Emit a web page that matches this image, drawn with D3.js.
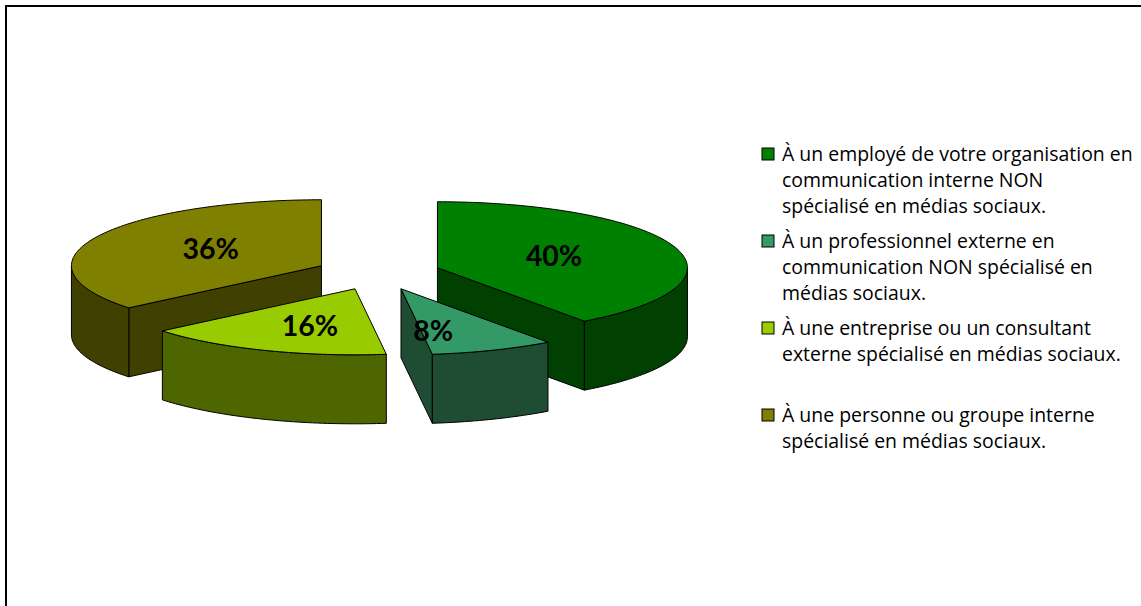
<!DOCTYPE html>
<html>
<head>
<meta charset="utf-8">
<script src="https://cdn.jsdelivr.net/npm/d3@7"></script>
<style>
    body { margin: 0; background: #fff; }
    svg { display: block; }
</style>
</head>
<body>
<div class="chart"></div>
<script>
const categories = [
    'À un employé de votre organisation en communication interne NON spécialisé en médias sociaux.',
    'À un professionnel externe en communication NON spécialisé en médias sociaux.',
    'À une entreprise ou un consultant externe spécialisé en médias sociaux.',
    'À une personne ou groupe interne spécialisé en médias sociaux.'
];
const legendLines = [
    ['À un employé de votre organisation en', 'communication interne NON', 'spécialisé en médias sociaux.'],
    ['À un professionnel externe en', 'communication NON spécialisé en', 'médias sociaux.'],
    ['À une entreprise ou un consultant', 'externe spécialisé en médias sociaux.'],
    ['À une personne ou groupe interne', 'spécialisé en médias sociaux.']
];
const values = [40, 8, 16, 36];
const labels = ['40%', '8%', '16%', '36%'];
const topColors = ['#008000', '#339966', '#99cc00', '#808000'];
const sideColors = ['#004000', '#1f4d33', '#4d6600', '#404000'];

const width = 1141;
const height = 606;

// pie geometry (tilted ellipse + thickness)
const cx = 378;
const cy = 273;
const rx = 250;
const ry = 66;
const depth = 69;
const explode = 0.25;

const svg = d3.select('.chart')
    .append('svg')
    .attr('width', width)
    .attr('height', height);

svg.append('rect')
    .attr('x', 6)
    .attr('y', 6)
    .attr('width', width + 20)
    .attr('height', height + 20)
    .attr('fill', '#fff')
    .attr('stroke', '#000')
    .attr('stroke-width', 2);

const pie = d3.pie().sort(null).value(d => d);
const arcs = pie(values).map((d, i) => {
    const mid = (d.startAngle + d.endAngle) / 2;
    return {
        ...d,
        i,
        mid,
        ox: explode * rx * Math.sin(mid),
        oy: -explode * 68 * Math.cos(mid)
    };
});

const pt = (d, a, r, z, rv = r) => [
    cx + d.ox + rx * r * Math.sin(a),
    cy + d.oy - ry * rv * Math.cos(a) + z
];

const line = d3.line();

function arcPoints(d, a0, a1, z) {
    const n = Math.max(2, Math.ceil(Math.abs(a1 - a0) / 0.02));
    return d3.range(n + 1).map(k => pt(d, a0 + (a1 - a0) * k / n, 1, z));
}

function sideFaces(d) {
    const faces = [];
    // cut face at start angle
    if (Math.sin(d.startAngle) < -1e-6) {
        faces.push([pt(d, 0, 0, 0), pt(d, d.startAngle, 1, 0), pt(d, d.startAngle, 1, depth), pt(d, 0, 0, depth)]);
    }
    // cut face at end angle
    if (Math.sin(d.endAngle) > 1e-6) {
        faces.push([pt(d, 0, 0, 0), pt(d, d.endAngle, 1, 0), pt(d, d.endAngle, 1, depth), pt(d, 0, 0, depth)]);
    }
    // outer curved side, front half only
    const a0 = Math.max(d.startAngle, Math.PI / 2);
    const a1 = Math.min(d.endAngle, Math.PI * 1.5);
    if (a1 > a0) {
        faces.push(arcPoints(d, a0, a1, 0).concat(arcPoints(d, a1, a0, depth)));
    }
    return faces;
}

const order = arcs.slice().sort((a, b) => a.oy - b.oy);

const slices = svg.append('g')
    .attr('class', 'slices')
    .selectAll('g')
    .data(order)
    .enter()
    .append('g');

slices.selectAll('path.side')
    .data(d => sideFaces(d).map(f => ({ f, i: d.i })))
    .enter()
    .append('path')
    .attr('class', 'side')
    .attr('d', d => line(d.f) + 'Z')
    .attr('fill', d => sideColors[d.i])
    .attr('stroke', '#000')
    .attr('stroke-width', 1)
    .attr('stroke-linejoin', 'round');

slices.append('path')
    .attr('class', 'top')
    .attr('d', d => line([pt(d, 0, 0, 0)].concat(arcPoints(d, d.startAngle, d.endAngle, 0))) + 'Z')
    .attr('fill', d => topColors[d.i])
    .attr('stroke', '#000')
    .attr('stroke-width', 1)
    .attr('stroke-linejoin', 'round');

// small slices get their label pushed toward the front edge
const isSmall = d => d.endAngle - d.startAngle < 0.6;
const labelPos = d => isSmall(d) ? pt(d, d.mid, 0.35, 0, 0.68) : pt(d, d.mid, 0.49, 0, 0.6);

svg.append('g')
    .attr('class', 'labels')
    .selectAll('text')
    .data(arcs)
    .enter()
    .append('text')
    .attr('x', d => labelPos(d)[0])
    .attr('y', d => labelPos(d)[1])
    .attr('dy', '0.36em')
    .attr('text-anchor', 'middle')
    .attr('fill', '#000')
    .style('font-family', 'Lato, sans-serif')
    .style('font-weight', 'bold')
    .style('font-size', '28.5px')
    .text((d, i) => labels[i]);

const legend = svg.append('g')
    .attr('class', 'legend')
    .attr('transform', 'translate(762, 148)');

const entryY = [0, 87, 174, 261];

const entry = legend.selectAll('g')
    .data(legendLines)
    .enter()
    .append('g')
    .attr('transform', (d, i) => `translate(0, ${entryY[i]})`);

entry.append('rect')
    .attr('width', 12)
    .attr('height', 12)
    .attr('fill', (d, i) => topColors[i])
    .attr('stroke', '#000')
    .attr('stroke-width', 1);

const legendText = entry.append('text')
    .attr('x', 20)
    .attr('y', 13)
    .style('font-family', '"Open Sans", sans-serif')
    .style('font-size', '17px')
    .attr('fill', '#000');

legendText.selectAll('tspan')
    .data(d => d)
    .enter()
    .append('tspan')
    .attr('x', 20)
    .attr('dy', (d, i) => i === 0 ? 0 : 26)
    .text(d => d);

// fit the longest line to the legend width
const firstLine = legendText.select('tspan').node();
const measured = firstLine.getComputedTextLength();
const fitted = 17 * 351 / measured;
legendText.style('font-size', fitted + 'px');
</script>
</body>
</html>
